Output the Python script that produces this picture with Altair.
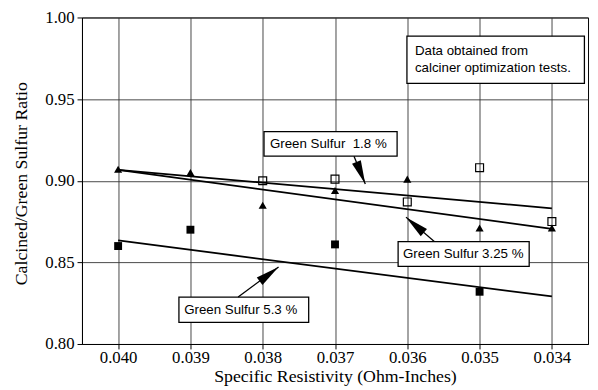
import altair as alt
import pandas as pd

# ---- axis ticks ----
x_ticks = [0.040, 0.039, 0.038, 0.037, 0.036, 0.035, 0.034]
y_ticks = [0.80, 0.85, 0.90, 0.95, 1.00]

# ---- measured points ----
tri_x = [0.040, 0.039, 0.038, 0.037, 0.036, 0.035, 0.034]
tri_y = [0.907, 0.905, 0.885, 0.894, 0.901, 0.871, 0.871]

osq_x = [0.038, 0.037, 0.036, 0.035, 0.034]
osq_y = [0.900, 0.901, 0.887, 0.908, 0.875]

fsq_x = [0.040, 0.039, 0.037, 0.035]
fsq_y = [0.860, 0.870, 0.861, 0.832]

# ---- fitted lines (values at 0.040 and 0.034) ----
fit_x = [0.040, 0.034]
fit_names = ["Green Sulfur 1.8 %", "Green Sulfur 3.25 %", "Green Sulfur 5.3 %"]
fit_start = [0.9066, 0.9066, 0.8634]
fit_end = [0.8831, 0.8705, 0.8291]

# ---- annotation boxes (data coordinates) ----
box_text = ["Green Sulfur\u00a0 1.8 %", "Green Sulfur 3.25 %", "Green Sulfur 5.3 %"]
box_x1 = [0.037982, 0.036127, 0.039159]
box_x2 = [0.036141, 0.034314, 0.037364]
box_y1 = [0.93012, 0.86265, 0.82873]
box_y2 = [0.91506, 0.84759, 0.81325]
box_tx = [0.037900, 0.036059, 0.039086]
box_ty = [0.92259, 0.85512, 0.82108]

arrow_tail_x = [0.036737, 0.035627, 0.038340]
arrow_tail_y = [0.91506, 0.86283, 0.82873]
arrow_tip_x = [0.036581, 0.036018, 0.037781]
arrow_tip_y = [0.89801, 0.87771, 0.84717]
arrow_angle = [158, 311, 53]

note_lines = ["Data obtained from", "calciner optimization tests."]
note_box_x = [0.036005, 0.033550]
note_box_y = [0.98855, 0.95964]
note_tx = [0.035895, 0.035895]
note_ty = [0.97952, 0.96928]

# ---- tables ----
lines_df = pd.DataFrame(
    [{"series": n, "x": fit_x[0], "y": s} for n, s in zip(fit_names, fit_start)]
    + [{"series": n, "x": fit_x[1], "y": e} for n, e in zip(fit_names, fit_end)]
)
tri_df = pd.DataFrame({"x": tri_x, "y": tri_y})
osq_df = pd.DataFrame({"x": osq_x, "y": osq_y})
fsq_df = pd.DataFrame({"x": fsq_x, "y": fsq_y})
box_df = pd.DataFrame({
    "x": box_x1 + [note_box_x[0]], "x2": box_x2 + [note_box_x[1]],
    "y": box_y1 + [note_box_y[0]], "y2": box_y2 + [note_box_y[1]],
})
text_df = pd.DataFrame({"x": box_tx + note_tx, "y": box_ty + note_ty,
                        "t": box_text + note_lines})
arrow_df = pd.DataFrame({"x": arrow_tail_x, "y": arrow_tail_y,
                         "x2": arrow_tip_x, "y2": arrow_tip_y})
head_df = pd.DataFrame({"x": arrow_tip_x, "y": arrow_tip_y, "ang": arrow_angle})

serif = "Liberation Serif"
sans = "Liberation Sans"

x_scale = alt.Scale(domain=[0.0335, 0.0405], reverse=True, nice=False, zero=False)
y_scale = alt.Scale(domain=[0.80, 1.00], nice=False, zero=False)

x_axis = alt.Axis(values=x_ticks, format=".3f", title="Specific Resistivity (Ohm-Inches)",
                  grid=True, tickSize=5, labelPadding=1, labelFlush=False,
                  titleY=38, titleBaseline="alphabetic")
y_axis = alt.Axis(values=y_ticks, format=".2f", title="Calcined/Green Sulfur Ratio",
                  grid=True, tickSize=5, labelPadding=3, labelFlush=False,
                  titleX=-61, titleY=168, titleAngle=270, titleBaseline="middle",
                  titleAlign="center")


def X(f="x"):
    return alt.X(f"{f}:Q", scale=x_scale, axis=x_axis)


def Y(f="y"):
    return alt.Y(f"{f}:Q", scale=y_scale, axis=y_axis)


lines = alt.Chart(lines_df).mark_line(color="black", strokeWidth=1.8).encode(
    x=X(), y=Y(), detail="series:N")

tri = alt.Chart(tri_df).mark_point(shape="triangle-up", filled=True, color="black",
                                   size=68, opacity=1).encode(x=X(), y=Y())
osq = alt.Chart(osq_df).mark_point(shape="square", filled=False, color="black",
                                   size=64, strokeWidth=1.2, opacity=1).encode(x=X(), y=Y())
fsq = alt.Chart(fsq_df).mark_point(shape="square", filled=True, color="black",
                                   size=64, opacity=1).encode(x=X(), y=Y())

boxes = alt.Chart(box_df).mark_rect(fill="white", stroke="black", strokeWidth=1.3).encode(
    x=X(), x2="x2:Q", y=Y(), y2="y2:Q")
texts = alt.Chart(text_df).mark_text(align="left", baseline="middle", font=sans,
                                     fontSize=13.5, color="black").encode(
    x=X(), y=Y(), text="t:N")

shafts = alt.Chart(arrow_df).mark_rule(color="black", strokeWidth=1.3).encode(
    x=X(), x2="x2:Q", y=Y(), y2="y2:Q")
heads = alt.Chart(head_df).mark_point(shape="M0,0L0.2,1L-0.2,1Z", filled=True,
                                      color="black", size=2304, opacity=1).encode(
    x=X(), y=Y(), angle=alt.Angle("ang:Q", scale=None))

chart = alt.layer(lines, tri, osq, fsq, boxes, texts, shafts, heads).properties(
    width=513, height=331,
    padding={"left": 75, "top": 7, "right": 2, "bottom": 42},
    autosize=alt.AutoSizeParams(type="none"),
).configure_view(stroke="black", strokeWidth=1).configure_axis(
    domainColor="black", tickColor="black", labelColor="black", titleColor="black",
    gridColor="#333333", gridWidth=0.9, gridOpacity=1,
    labelFont=serif, labelFontSize=17, titleFont=serif, titleFontSize=18,
    titleFontWeight="normal",
)

chart.save("out.html", embed_options={"renderer": "svg", "actions": False})
